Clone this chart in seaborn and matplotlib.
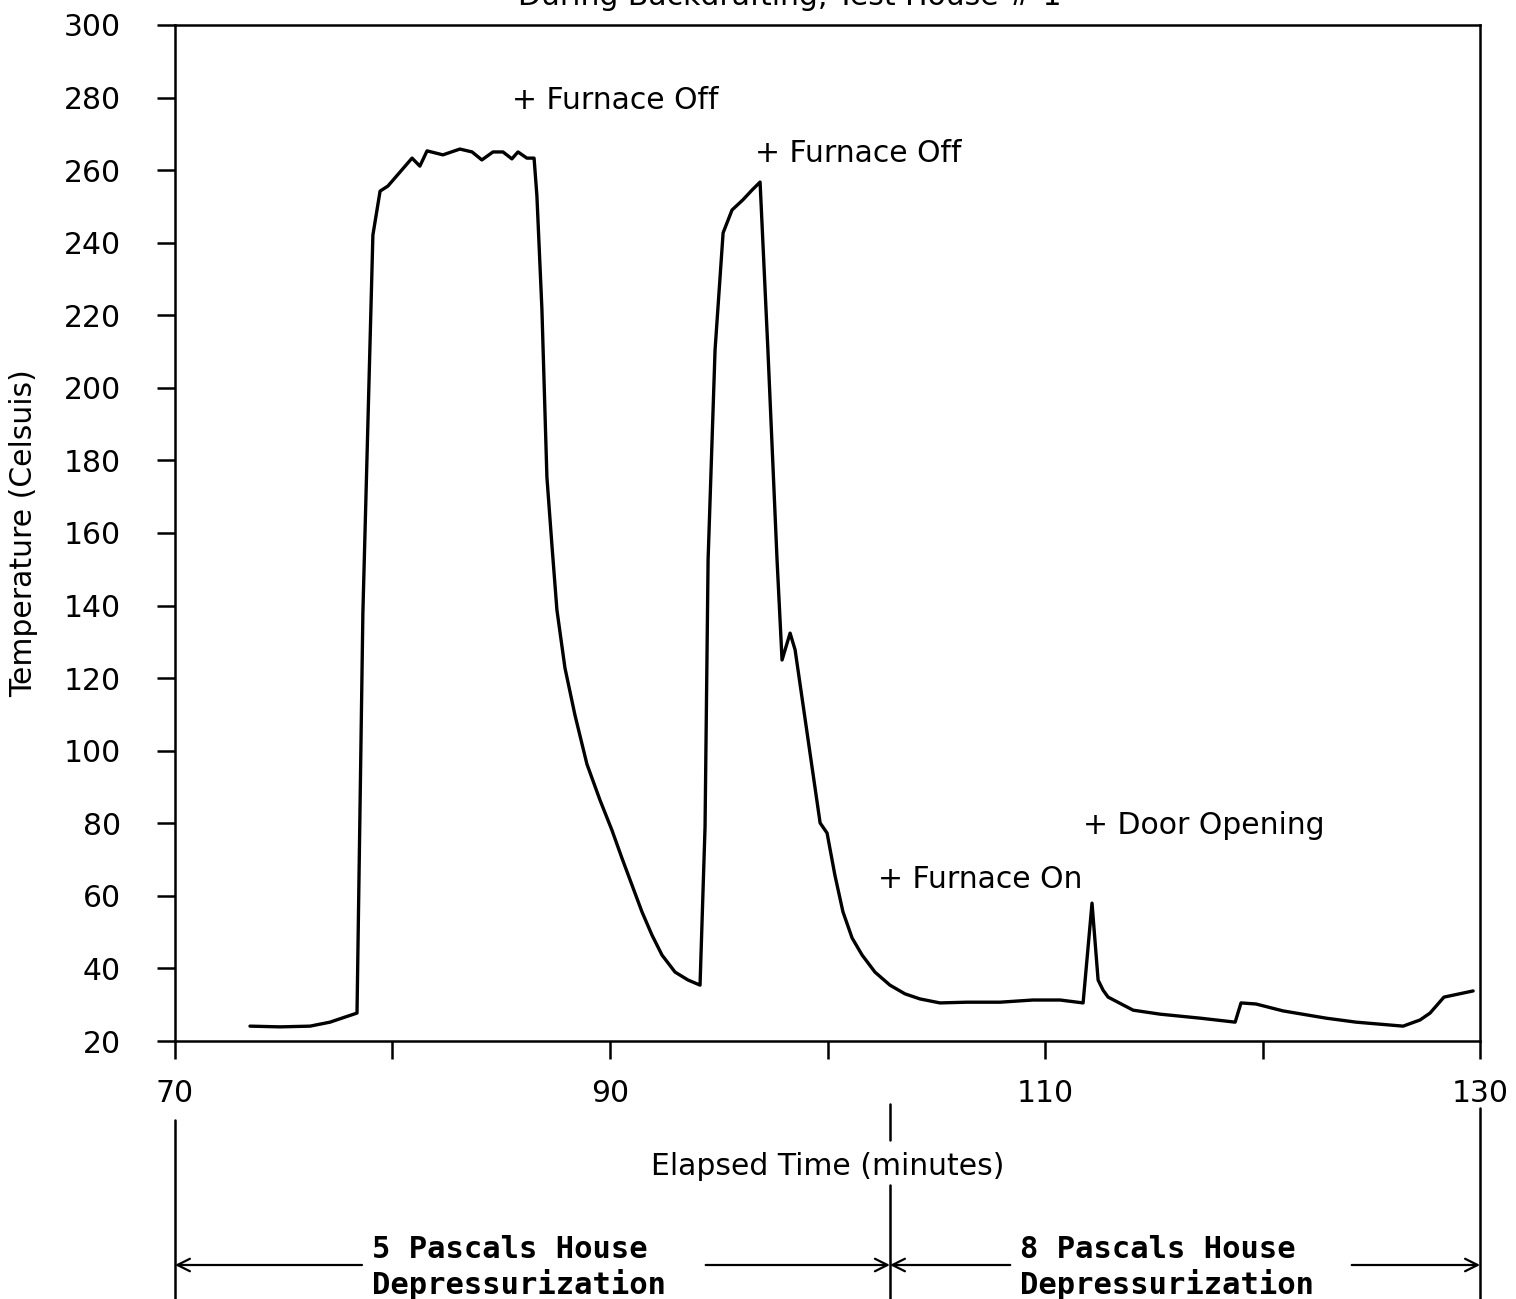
import matplotlib
matplotlib.use("Agg")
import matplotlib.pyplot as plt
import matplotlib.transforms as mtransforms
import seaborn as sns
import pandas as pd

# ---------------- data ----------------
elapsed_min = [73.45, 74.83, 76.21, 77.13, 77.82, 78.37, 78.64, 79.10, 79.43, 79.79,
               80.90, 81.26, 81.59, 82.32, 83.10, 83.66, 84.11, 84.62, 85.08, 85.49,
               85.77, 86.18, 86.51, 86.64, 86.87, 87.10, 87.33, 87.56, 87.93, 88.39,
               88.94, 89.54, 90.09, 90.55, 91.01, 91.47, 91.93, 92.39, 92.99, 93.59,
               94.14, 94.37, 94.51, 94.83, 95.20, 95.61, 96.11, 96.53, 96.90, 97.26,
               97.68, 97.91, 98.28, 98.51, 99.66, 99.98, 100.34, 100.71, 101.13, 101.59,
               102.18, 102.87, 103.56, 104.25, 105.17, 106.41, 107.93, 109.45, 110.69, 111.75,
               112.16, 112.44, 112.67, 112.90, 114.05, 115.29, 117.13, 118.74, 119.01, 119.70,
               120.94, 122.92, 124.30, 126.46, 127.24, 127.70, 128.34, 129.68]
temperature_c = [24.1, 23.9, 24.1, 25.2, 26.6, 27.7, 138.0, 242.1, 254.2, 255.6,
                 263.3, 261.1, 265.3, 264.2, 265.8, 265.0, 262.8, 265.0, 265.0, 263.1,
                 265.0, 263.3, 263.3, 252.9, 221.7, 175.4, 156.7, 138.8, 122.8, 109.8,
                 96.3, 86.4, 78.1, 70.4, 63.0, 55.6, 49.2, 43.7, 39.0, 36.8,
                 35.4, 79.0, 152.6, 210.4, 242.7, 249.0, 251.8, 254.5, 256.7, 210.4,
                 152.6, 125.0, 132.4, 127.8, 80.1, 77.3, 65.7, 55.6, 48.4, 43.7,
                 39.0, 35.4, 33.0, 31.6, 30.5, 30.7, 30.7, 31.3, 31.3, 30.5,
                 58.0, 36.8, 34.0, 32.1, 28.5, 27.4, 26.3, 25.2, 30.5, 30.2,
                 28.3, 26.3, 25.2, 24.1, 25.8, 27.7, 32.1, 33.8]

event_labels = ["+ Furnace Off", "+ Furnace Off", "+ Furnace On", "+ Door Opening"]
event_x = [85.5, 96.67, 102.32, 111.75]
event_y = [279.3, 264.7, 64.6, 79.5]

x_ticks = [70, 80, 90, 100, 110, 120, 130]
x_tick_labels = ["70", "", "90", "", "110", "", "130"]
y_ticks = [20, 40, 60, 80, 100, 120, 140, 160, 180, 200, 220, 240, 260, 280, 300]

phase_bounds = [70, 102.87, 130]
phase_labels = ["5 Pascals House\nDepressurization", "8 Pascals House\nDepressurization"]
phase_text_x = [79.06, 108.85]
phase_left_tail = [78.6, 108.4]
phase_right_tail = [94.4, 124.1]

title_text = "During Backdrafting, Test House # 1"

# ---------------- style ----------------
sns.set_style("white")
plt.rcParams["font.family"] = ["DejaVu Sans"]
plt.rcParams["text.color"] = "black"
plt.rcParams["axes.labelcolor"] = "black"

fig = plt.figure(figsize=(15.16, 12.99), dpi=100)
ax = fig.add_axes([0.1154, 0.1986, 0.8609, 0.7822])

df = pd.DataFrame({"Elapsed": elapsed_min, "Temp": temperature_c})
sns.lineplot(data=df, x="Elapsed", y="Temp", ax=ax, color="black",
             linewidth=2.4, estimator=None, sort=False)

ax.set_xlim(70, 130)
ax.set_ylim(20, 300)
ax.set_xticks(x_ticks)
ax.set_xticklabels(x_tick_labels)
ax.set_yticks(y_ticks)
ax.set_yticklabels([str(v) for v in y_ticks])

for sp in ax.spines.values():
    sp.set_visible(True)
    sp.set_color("black")
    sp.set_linewidth(1.8)

ax.tick_params(axis="both", direction="out", length=13, width=1.8,
               color="black", labelsize=21.5, labelcolor="black")
ax.tick_params(axis="y", pad=26, left=True)
ax.tick_params(axis="x", pad=14, bottom=True)

ax.set_xlabel("Elapsed Time (minutes)", fontsize=21.5, labelpad=32, color="black")
ax.set_ylabel("Temperature (Celsuis)", fontsize=21.5, labelpad=18, color="black")

for lab, ex, ey in zip(event_labels, event_x, event_y):
    ax.text(ex, ey, lab, fontsize=21.5, ha="left", va="center", color="black")

# title (partially cut off at top, as in reference)
fig.text(0.521, 1 - 5 / 1299, title_text, fontsize=21.5, ha="center",
         va="baseline", color="black")

# ---------------- phase annotation below axis ----------------
trans = mtransforms.blended_transform_factory(ax.transData, fig.transFigure)
y_arrow = 1 - 1265 / 1299

ax.plot([phase_bounds[0], phase_bounds[0]], [1 - 1120 / 1299, 0], transform=trans,
        color="black", lw=1.8, clip_on=False)
ax.plot([phase_bounds[1], phase_bounds[1]], [1 - 1104 / 1299, 1 - 1140 / 1299],
        transform=trans, color="black", lw=1.8, clip_on=False)
ax.plot([phase_bounds[1], phase_bounds[1]], [1 - 1185 / 1299, 0], transform=trans,
        color="black", lw=1.8, clip_on=False)
ax.plot([phase_bounds[2], phase_bounds[2]], [1 - 1108 / 1299, 0], transform=trans,
        color="black", lw=1.8, clip_on=False)

arrow_kw = dict(arrowstyle="->,head_length=0.9,head_width=0.45", color="black", lw=1.6,
                shrinkA=0, shrinkB=0)
for i in range(2):
    ax.annotate("", xy=(phase_bounds[i], y_arrow), xycoords=trans,
                xytext=(phase_left_tail[i], y_arrow), textcoords=trans,
                arrowprops=arrow_kw, annotation_clip=False)
    ax.annotate("", xy=(phase_bounds[i + 1], y_arrow), xycoords=trans,
                xytext=(phase_right_tail[i], y_arrow), textcoords=trans,
                arrowprops=arrow_kw, annotation_clip=False)
    line1, line2 = phase_labels[i].split("\n")
    ax.text(phase_text_x[i], 1 - 1250 / 1299, line1, transform=trans,
            family="DejaVu Sans Mono", fontweight="bold", fontsize=22,
            ha="left", va="center", color="black")
    ax.text(phase_text_x[i], 1 - 1284 / 1299, line2, transform=trans,
            family="DejaVu Sans Mono", fontweight="bold", fontsize=22,
            ha="left", va="center", color="black")

fig.savefig("out.png", dpi=100, facecolor="white")
